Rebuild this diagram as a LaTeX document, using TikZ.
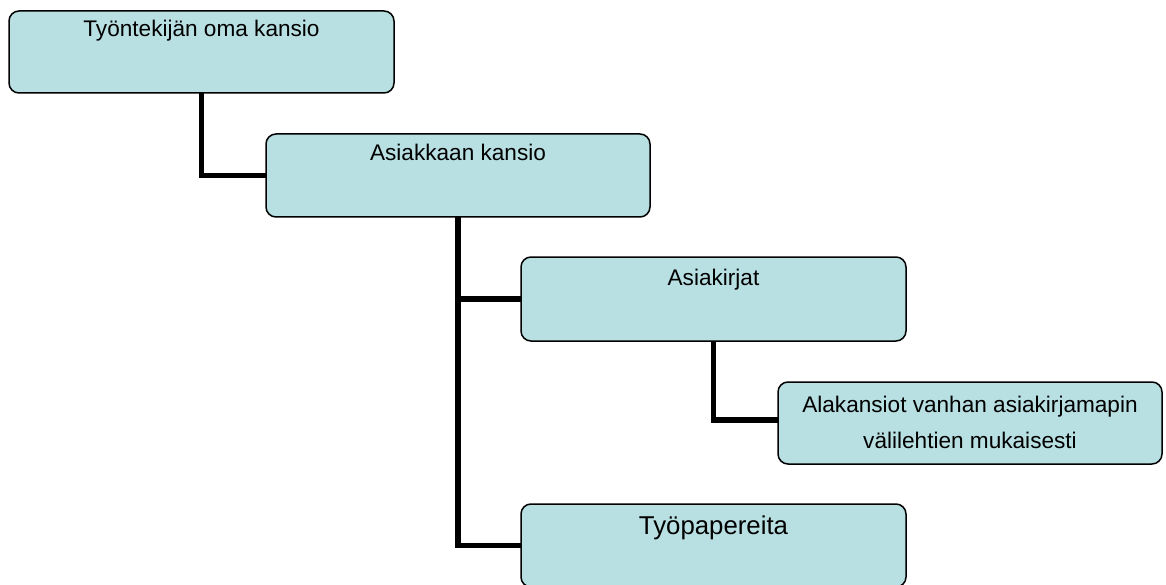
\documentclass[tikz,border=0pt]{standalone}
\usepackage{fontspec}
\setmainfont{Liberation Sans}
\definecolor{boxfill}{RGB}{184,223,226}
\begin{document}
\begin{tikzpicture}[x=1pt,y=-1pt,
  folder/.style={draw=black, line width=1.5pt, fill=boxfill, rounded corners=10pt, inner sep=0pt},
  lbl/.style={anchor=base, inner sep=0pt, font=\fontsize{22.6}{26}\selectfont},
  conn/.style={line width=5.5pt, line join=miter, line cap=butt}]
\useasboundingbox (0,0) rectangle (1166,585);
% boxes
\path[folder] (9,11) rectangle (394,93);
\node[inner sep=0pt, minimum width=385pt, minimum height=82pt] (b1) at (201.5,52) {};
\path[folder] (266,134) rectangle (650,217);
\node[inner sep=0pt, minimum width=384pt, minimum height=83pt] (b2) at (458,175.5) {};
\path[folder] (521,257) rectangle (906,341);
\node[inner sep=0pt, minimum width=385pt, minimum height=84pt] (b3) at (713.5,299) {};
\path[folder] (778,382) rectangle (1162,464);
\node[inner sep=0pt, minimum width=384pt, minimum height=82pt] (b4) at (970,420) {};
\path[folder] (521,504) rectangle (906,587);
\node[inner sep=0pt, minimum width=385pt, minimum height=83pt] (b5) at (713.5,545.5) {};
% texts
\node[lbl] (t1) at (201.5,37) {Työntekijän oma kansio};
\node[lbl] (t2) at (458,161) {Asiakkaan kansio};
\node[lbl] (t3) at (713.5,285) {Asiakirjat};
\node[lbl] (t4a) at (970,412) {Alakansiot vanhan asiakirjamapin};
\node[lbl] (t4b) at (970,448) {välilehtien mukaisesti};
\node[lbl, font=\fontsize{25.8}{30}\selectfont] (t5) at (713.5,534) {Työpapereita};
% connectors
\draw[conn] (b1.south) |- (b2.west);
\draw[conn] (b2.south) |- (b5.west);
\draw[conn] (b2.south |- b3.west) -- (b3.west);
\draw[conn] (b3.south) |- (b4.west);
\end{tikzpicture}
\end{document}
